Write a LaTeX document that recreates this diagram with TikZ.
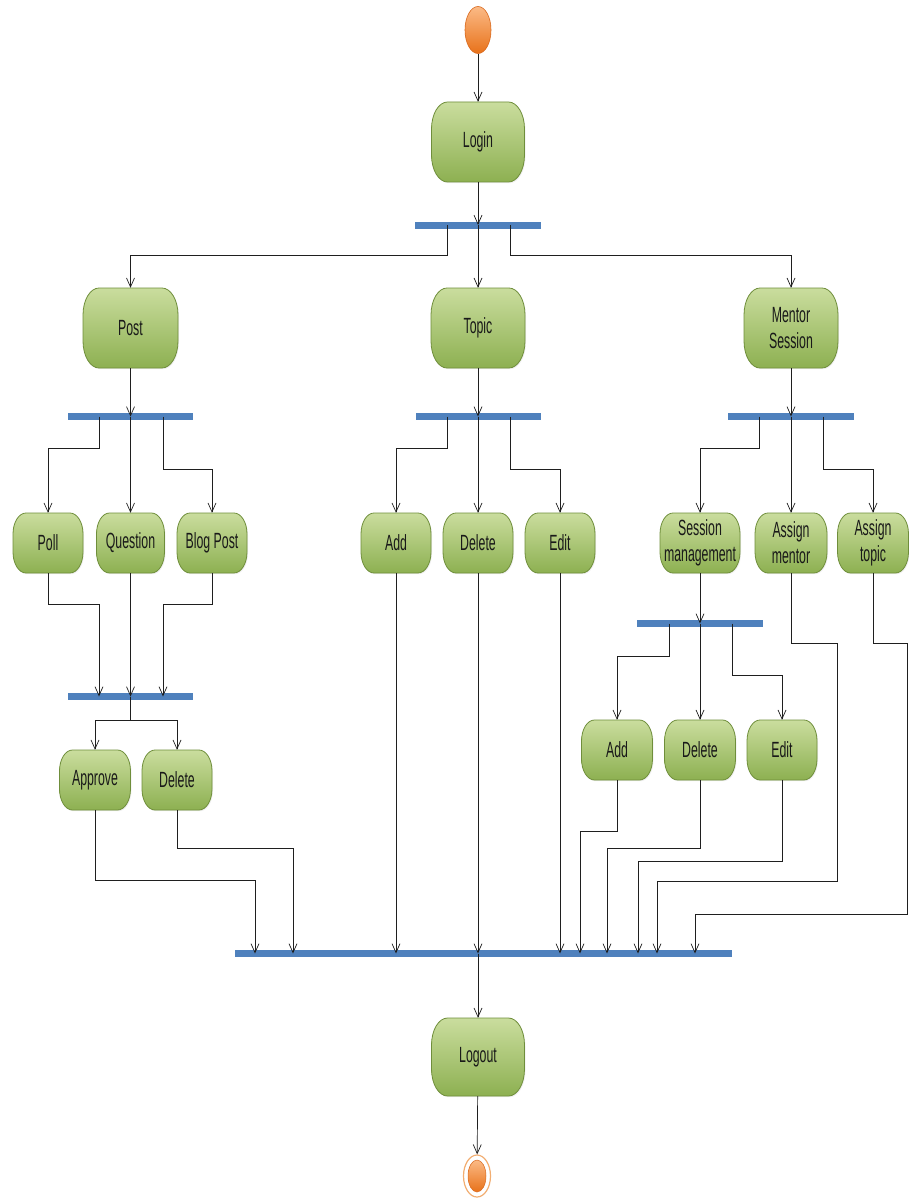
\documentclass[tikz,border=0pt]{standalone}
\usepackage{fontspec}
\setmainfont{Liberation Sans}[FakeStretch=0.56]
\usetikzlibrary{arrows.meta,shapes.geometric,shadows}

\definecolor{actTop}{HTML}{CADD9E}
\definecolor{actBottom}{HTML}{8DB051}
\definecolor{actLine}{HTML}{6F8E3B}
\definecolor{barBlue}{HTML}{4F81BD}
\definecolor{dotTop}{HTML}{FBBA86}
\definecolor{dotBottom}{HTML}{E8721A}
\definecolor{dotLine}{HTML}{D9681C}
\definecolor{ringLine}{HTML}{F2AE72}

% activity box: name, cx, cy, width, height, corner x radius, corner y radius, label
\newcommand\actstep[8]{%
  \path[actshape]
    ({#2-#4/2+#6},{#3-#5/2}) -- ({#2+#4/2-#6},{#3-#5/2})
    arc[start angle=90,end angle=0,x radius=#6pt,y radius=#7pt]
    -- ({#2+#4/2},{#3+#5/2-#7})
    arc[start angle=0,end angle=-90,x radius=#6pt,y radius=#7pt]
    -- ({#2-#4/2+#6},{#3+#5/2})
    arc[start angle=-90,end angle=-180,x radius=#6pt,y radius=#7pt]
    -- ({#2-#4/2},{#3-#5/2+#7})
    arc[start angle=180,end angle=90,x radius=#6pt,y radius=#7pt] -- cycle;
  \node[acttext, minimum width=#4pt, minimum height=#5pt] (#1) at (#2,#3) {#8};
}

\begin{document}
\begin{tikzpicture}[x=1pt, y=-1pt,
  actshape/.style={top color=actTop, bottom color=actBottom, draw=actLine, line width=0.8pt,
    drop shadow={opacity=0.12, shadow xshift=1pt, shadow yshift=-1.2pt}},
  acttext/.style={inner sep=0pt, align=center, text=black!90,
    font=\fontsize{22}{26}\selectfont},
  syncbar/.style={fill=barBlue, draw=none, inner sep=0pt, minimum height=7pt},
  flow/.style={draw=black!88, line width=0.7pt, -{Straight Barb[length=9pt,width=8pt]}}]

\fill[white] (0,0) rectangle (909,1201);
\useasboundingbox (0,0) rectangle (909,1201);

% start and end points
\node[ellipse, minimum width=26pt, minimum height=47pt, inner sep=0pt,
      top color=dotTop, bottom color=dotBottom, draw=dotLine, line width=0.6pt] (start) at (478,30) {};
\node[ellipse, minimum width=27pt, minimum height=42pt, inner sep=0pt,
      fill=white, draw=ringLine, line width=1.2pt] (end) at (477,1176) {};
\node[ellipse, minimum width=18pt, minimum height=32pt, inner sep=0pt,
      top color=dotTop, bottom color=dotBottom, draw=dotLine, line width=0.5pt] (endcore) at (477,1176) {};

% synchronisation bars
\node[syncbar, minimum width=126pt] (b0) at (478,225) {};
\node[syncbar, minimum width=125pt] (bP) at (130.5,416.5) {};
\node[syncbar, minimum width=125pt] (bT) at (478,416.5) {};
\node[syncbar, minimum width=126pt] (bM) at (791,416.5) {};
\node[syncbar, minimum width=125pt] (bQ) at (130.5,696.5) {};
\node[syncbar, minimum width=126pt] (bS) at (700,623.5) {};
\node[syncbar, minimum width=497pt] (bF) at (483.5,953.5) {};

% activities
\actstep{login}{478}{142}{93}{80}{16}{27}{Login}
\actstep{post}{130.5}{328}{95}{80}{16}{27}{Post}
\actstep{topic}{478}{328}{94}{80}{16}{27}{Topic}
\actstep{mentor}{791}{328}{94}{80}{16}{27}{Mentor\\Session}

\actstep{poll}{48}{543}{70}{60}{13}{21}{Poll}
\actstep{question}{130.5}{543}{68}{60}{13}{21}{Question}
\actstep{blog}{212}{543}{70}{60}{13}{21}{Blog Post}

\actstep{add}{396}{543}{70}{60}{13}{21}{Add}
\actstep{tdelete}{478}{543}{70}{60}{13}{21}{Delete}
\actstep{edit}{560}{543}{70}{60}{13}{21}{Edit}

\actstep{session}{700}{543}{80}{60}{13}{21}{Session\\management}
\actstep{amentor}{791}{543}{72}{60}{13}{21}{Assign\\mentor}
\actstep{atopic}{873}{543}{71}{60}{13}{21}{Assign\\topic}

\actstep{approve}{95}{780}{71}{60}{13}{21}{Approve}
\actstep{pdelete}{177}{780}{70}{60}{13}{21}{Delete}

\actstep{add2}{617}{750}{71}{60}{13}{21}{Add}
\actstep{delete2}{700}{750}{71}{60}{13}{21}{Delete}
\actstep{edit2}{782}{750}{70}{60}{13}{21}{Edit}

\actstep{logout}{478}{1057}{93}{78}{16}{27}{Logout}

% login and fork
\draw[flow] (start) -- (login);
\draw[flow] (login) -- (b0.center);
\draw[flow] ([xshift=-31pt]b0.center) -- ++(0,30) -| (post);
\draw[flow] (b0.center) -- (topic);
\draw[flow] ([xshift=32pt]b0.center) -- ++(0,30) -| (mentor);

% post branch
\draw[flow] (post) -- (bP.center);
\draw[flow] ([xshift=-31.5pt]bP.center) -- ++(0,31.5) -| (poll);
\draw[flow] (bP.center) -- (question);
\draw[flow] ([xshift=32.5pt]bP.center) -- ++(0,52.5) -| (blog);
\draw[flow] (poll.south) -- ++(0,31) -| ([xshift=-31.5pt]bQ.center);
\draw[flow] (question) -- (bQ.center);
\draw[flow] (blog.south) -- ++(0,31) -| ([xshift=32.5pt]bQ.center);
\draw[flow] (bQ.center) -- ++(0,23.5) -| (approve);
\draw[flow] (bQ.center) -- ++(0,23.5) -| (pdelete);

% topic branch
\draw[flow] (topic) -- (bT.center);
\draw[flow] ([xshift=-31pt]bT.center) -- ++(0,31.5) -| (add);
\draw[flow] (bT.center) -- (tdelete);
\draw[flow] ([xshift=32pt]bT.center) -- ++(0,52.5) -| (edit);

% mentor session branch
\draw[flow] (mentor) -- (bM.center);
\draw[flow] ([xshift=-32pt]bM.center) -- ++(0,31.5) -| (session);
\draw[flow] (bM.center) -- (amentor);
\draw[flow] ([xshift=32pt]bM.center) -- ++(0,52.5) -| (atopic);
\draw[flow] (session) -- (bS.center);
\draw[flow] ([xshift=-31pt]bS.center) -- ++(0,32.5) -| (add2);
\draw[flow] (bS.center) -- (delete2);
\draw[flow] ([xshift=32pt]bS.center) -- ++(0,51.5) -| (edit2);

% join into the final bar
\draw[flow] (approve.south) -- ++(0,70) -| ([xshift=-228.5pt]bF.center);
\draw[flow] (pdelete.south) -- ++(0,38) -| ([xshift=-190.5pt]bF.center);
\draw[flow] (add.south) -- (add.south |- bF.center);
\draw[flow] (tdelete.south) -- (tdelete.south |- bF.center);
\draw[flow] (edit.south) -- (edit.south |- bF.center);
\draw[flow] (add2.south) -- ++(0,51) -| ([xshift=96.5pt]bF.center);
\draw[flow] (delete2.south) -- ++(0,68) -| ([xshift=123.5pt]bF.center);
\draw[flow] (edit2.south) -- ++(0,81) -| ([xshift=154.5pt]bF.center);
\draw[flow] (amentor.south) -- ++(0,70) -- ++(46,0) -- ++(0,238) -| ([xshift=173.5pt]bF.center);
\draw[flow] (atopic.south) -- ++(0,70) -- ++(34.5,0) -- ++(0,271) -| ([xshift=211.5pt]bF.center);

% logout
\draw[flow] (bF.center -| logout) -- (logout);
\draw[flow] (logout) -- (end);
\end{tikzpicture}
\end{document}
